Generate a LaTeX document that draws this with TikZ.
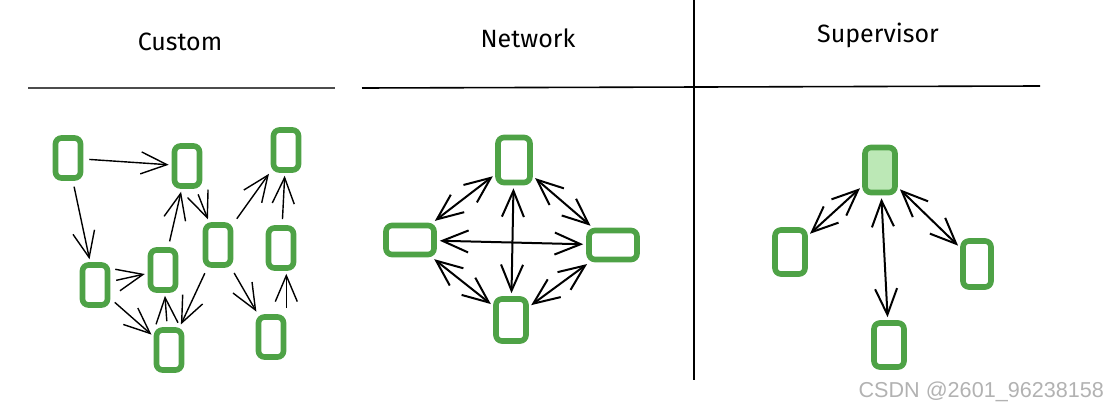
\documentclass[tikz,border=0pt]{standalone}
\usepackage{fontspec}
\setmainfont{Fira Sans}
\newfontfamily\marksans{Liberation Sans}
\usetikzlibrary{arrows.meta}

\definecolor{leaf}{RGB}{78,162,70}
\definecolor{leaffill}{RGB}{188,232,182}

\tikzset{
  agent/.style={draw=leaf, line width=2.8pt, rounded corners=3pt,
    minimum width=12.5pt, minimum height=20pt, inner sep=0pt},
  wideagent/.style={agent, minimum width=24pt, minimum height=14.5pt},
  title/.style={font=\fontsize{12.5}{14}\selectfont},
  barb/.tip={Straight Barb[length=13pt,width=11pt]},
  link/.style={-barb, line width=0.7pt, shorten <=3pt, shorten >=1.5pt},
  twoway/.style={link, barb-barb, line width=1pt, shorten <=1.5pt}
}

\begin{document}
\begin{tikzpicture}[x=0.5pt,y=-0.5pt]
  \useasboundingbox (0,0) rectangle (1116,412);

  % header rules
  \draw[line width=1.3pt, black!70] (28,88) -- (335,88);
  \draw[line width=0.8pt] (362,88) -- (1040,86);
  \draw[line width=0.8pt] (694,0) -- (694,380);

  \node[title] (custom) at (180,42) {Custom};
  \node[title] (network) at (528,38) {Network};
  \node[title] (supervisor) at (878,35) {Supervisor};

  % custom
  \node[agent] (c1) at (68,158) {};
  \node[agent] (c2) at (187,166) {};
  \node[agent] (c3) at (286,150) {};
  \node[agent] (c4) at (95,285) {};
  \node[agent] (c5) at (163,270) {};
  \node[agent] (c6) at (218,245) {};
  \node[agent] (c7) at (281,248) {};
  \node[agent] (c8) at (169,350) {};
  \node[agent] (c9) at (271,337) {};

  \draw[link] (c1) -- (c2);
  \draw[link] (c1) -- (c4);
  \draw[link] (c4) -- (c5);
  \draw[link] (c4) -- (c8);
  \draw[link] (c5) -- (c2);
  \draw[link] (c8) -- (c5);
  \draw[link] (c2) -- (c6);
  \draw[link] (c6) -- (c3);
  \draw[link] (c6) -- (c8);
  \draw[link] (c6) -- (c9);
  \draw[link] (c9.north east) -- (c9.north east |- c7.south);
  \draw[link] (c7) -- (c3);

  % network
  \node[agent, minimum width=16pt, minimum height=22.5pt] (ntop) at (514,160) {};
  \node[wideagent] (nleft) at (410,240) {};
  \node[wideagent] (nright) at (613,245) {};
  \node[agent, minimum width=15pt, minimum height=21pt] (nbottom) at (511,320) {};

  \draw[twoway] (ntop) -- (nleft);
  \draw[twoway] (ntop) -- (nright);
  \draw[twoway] (ntop) -- (nbottom);
  \draw[twoway] (nleft) -- (nright);
  \draw[twoway] (nleft) -- (nbottom);
  \draw[twoway] (nright) -- (nbottom);

  % supervisor
  \node[agent, fill=leaffill, minimum width=15pt, minimum height=22.5pt] (boss) at (880,170) {};
  \node[agent, minimum width=15pt, minimum height=22pt] (w1) at (790,252) {};
  \node[agent, minimum width=15pt, minimum height=22pt] (w2) at (889,345) {};
  \node[agent, minimum width=14pt, minimum height=23pt] (w3) at (977,264) {};

  \draw[twoway] (boss) -- (w1);
  \draw[twoway] (boss) -- (w2);
  \draw[twoway] (boss) -- (w3);

  \node[anchor=base east, text=black!30, font=\marksans\fontsize{10.8}{12}\selectfont]
    (mark) at (1111,397) {CSDN @2601\_96238158};
\end{tikzpicture}
\end{document}
